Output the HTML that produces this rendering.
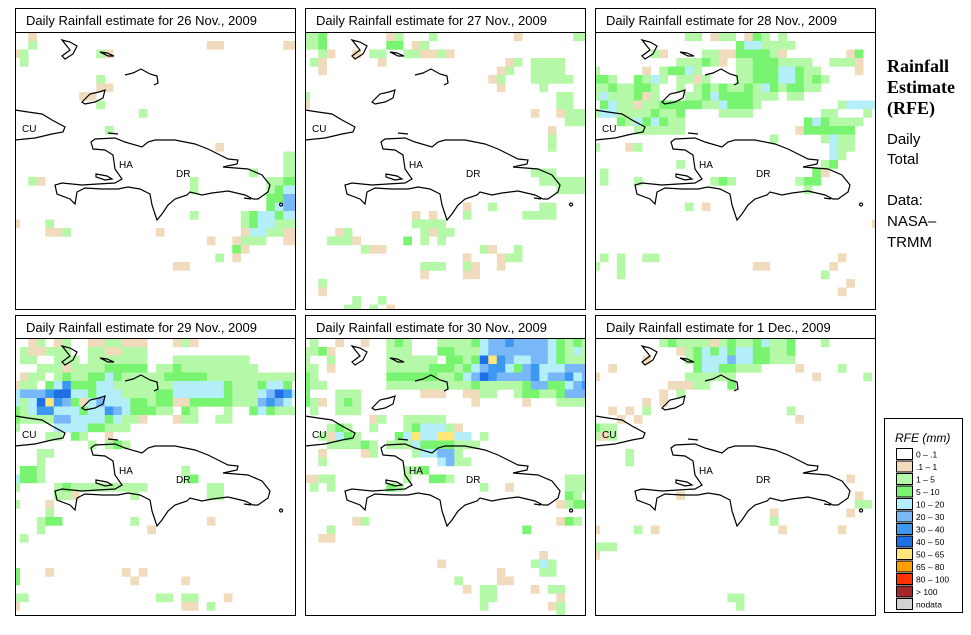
<!DOCTYPE html>
<html><head><meta charset="utf-8">
<style>
body{margin:0;background:#fff;width:971px;height:635px;overflow:hidden;font-family:"Liberation Sans",sans-serif}
#wrap{position:relative;width:971px;height:635px}
svg{position:absolute;left:0;top:0}
.side{position:absolute;left:887px;color:#000}
</style></head><body><div id="wrap">
<svg id="chart" width="971" height="635"></svg>
<div class="side" style="top:56px;font-family:'Liberation Serif',serif;font-weight:bold;font-size:18px;line-height:21px">Rainfall<br>Estimate<br>(RFE)</div>
<div class="side" style="top:130px;font-size:15px;line-height:20px">Daily<br>Total</div>
<div class="side" style="top:190px;font-size:15px;line-height:21px">Data:<br>NASA–<br>TRMM</div>
</div>
<script>
const panelTitles=["Daily Rainfall estimate for  26 Nov., 2009","Daily Rainfall estimate for  27 Nov., 2009","Daily Rainfall estimate for  28 Nov., 2009","Daily Rainfall estimate for  29 Nov., 2009","Daily Rainfall estimate for  30 Nov., 2009","Daily Rainfall estimate for  1 Dec., 2009"];
const legendLabels=["0 – .1",".1 – 1","1 – 5","5 – 10","10 – 20","20 – 30","30 – 40","40 – 50","50 – 65","65 – 80","80 – 100","> 100","nodata"];
const legendCodes=[".","t","g","G","c","b","B","D","y","o","r","R","n"];
const legendColors=["#ffffff","#f0dcbc","#b4f8a8","#78f470","#b4eef8","#78b8f8","#3c98f0","#1e6ee6","#ffe678","#ffa000","#ff3200","#a52828","#d2d2d2"];
// cells: "row startCol codes" (grid indices, 0.25° grid)
const day1=["0 2 t","1 2 g","1 23 tt","1 32 tt","2 0 tg","2 10 gt","3 1 g","5 10 g","6 10 tt","7 8 tt","8 10 g","9 15 g","11 11 g","13 24 t","14 32 gg","15 32 gg","16 28 g","16 32 gg","17 2 gt","17 21 g","17 30 ggGG","18 21 g","18 30 gGcc","19 30 GGbb","20 30 Gcbb","21 21 g","21 27 gGccGcc","22 0 t","22 4 g","22 27 gGccggg","23 4 ttg","23 17 t","23 27 tccggtt","24 23 t","24 26 tggg","24 32 tt","25 26 Gt","26 24 g","26 26 t","27 19 tt"];
const day2=["0 0 ggG","0 10 tg","0 15 g","0 25 t","0 32 gg","1 0 ggG","1 10 GG","1 13 tg","2 2 gt","2 6 t","2 8 gg","2 12 ggttgt","3 1 gt","3 9 t","3 24 tg","3 27 gggg","4 2 t","4 23 tg","4 27 gggg","5 22 tg","5 27 ggggg","6 23 t","6 28 g","7 0 g","7 30 gg","8 0 t","8 30 gg","9 27 t","9 30 tggg","10 31 ggg","11 29 t","12 29 g","13 29 g","16 27 ggg","17 28 gg","17 30 gggg","18 30 gggg","20 19 t","20 22 g","20 28 gg","21 13 t","21 15 t","21 19 g","21 26 gggg","22 13 gggg","23 4 tg","23 14 gtgg","24 3 gggt","24 12 G","24 14 g","24 16 g","25 7 gtt","25 21 gt","25 25 g","26 19 t","26 23 tgg","27 14 ggg","27 19 gt","27 23 t","28 14 t","28 19 tt","29 2 g","30 2 t","31 6 g","31 9 g","32 5 gg","32 8 g","32 10 t"];
const day3=["0 11 gg","0 14 tgg","0 18 tGg","0 22 g","1 17 Gccgggg","2 7 gt","2 13 ggttGGGGgt","2 30 tG","3 10 gggGgt","3 17 ggGGGgggg","3 28 gggt","4 0 g","4 6 t","4 8 gGGcg","4 17 ggGGGccGgg","4 31 t","5 0 GGg","5 5 Ggcg","5 10 ggtg","5 17 ggGGGccGgGg","6 0 ggGggGGg","6 10 g.gGgGggGgcGgGGgg","7 0 gcgggGtg","7 11 ggGcGGGGggg","7 23 gg","8 1 GcggtggGGGGGggcGGGg","8 29 gcccc","9 0 gccggggGggG","9 15 gggg","9 27 gg","9 32 g","10 3 GgcGcGgg","10 25 GcGgggg","11 5 gggggg","11 24 tGGGGGG","12 21 g","12 27 gcgg","13 0 g","13 4 tg","13 28 cgg","14 28 cg","15 10 g","15 27 gG","16 1 g","16 26 Gt","17 1 g","17 5 g","17 14 gGg","17 24 gGG","18 25 g","20 11 g","20 13 t","22 33 t","26 1 g","26 3 g","26 6 gg","26 29 t","27 0 g","27 3 g","27 19 tt","27 28 t","28 3 g","28 27 g","29 30 t","30 29 t"];
const day4=["0 2 tg","0 5 tg","0 9 ttggttt","0 19 tgt","1 1 gttggg","1 9 ggttggg","2 1 gg","2 5 ggg","2 9 ggggggg","2 19 ggggggggg","3 3 gggtggggGGGGG","3 17 ggGggggggggg","4 1 tgg.gGggGGcGggggg","4 18 GGGGGggggggggggg","5 0 tgg.GcBGGGccgggggggccccccGgggGccG","6 0 cbbbBDDccGcccggggGGccccccGgggcbDBc","7 0 cgcDyBbGtcbcccGGgGGttGGGGGgggbBbc","8 0 GgcBBcccGccBbcGGGgg.Gg...g..GcGggg","9 0 GggggbbccccGcggt","9 19 tgg","9 24 gg","10 0 g","10 5 ccccGGggg","11 4 gg.Gg..t","12 9 g.gGg","13 3 gg","14 3 g","15 1 GGg","15 20 g","16 0 cGGg","16 20 gG","17 0 g","17 5 gGggggggggg","17 23 gg","18 5 ggt","18 14 g","18 23 gg","19 0 g","19 4 t","20 4 g","21 3 gGG","21 14 g","21 23 t","22 3 g","22 16 t","23 1 g","27 0 G","27 4 t","27 13 t","27 15 t","28 0 G","28 14 t","28 20 t","30 0 gg","30 17 gg","30 20 gg","30 25 t","31 0 t","31 20 tt","31 23 g"];
const day5=["0 1 g","0 4 t","0 7 t","0 10 gGg","0 16 ggggGcbbBbbbbcGgGg","1 0 ggGt","1 10 ggg","1 16 GGgggcbbbbbbbcGgcg","2 0 g","2 3 g","2 10 gggggg","2 17 GGgGDyBbccbbcGggg","3 0 gg","3 3 t","3 10 gggggGGGgGcbBBcGbBcccbbb","4 0 Gg","4 10 GGGGGGggGcbDBbbbbBcbbBcb","5 0 Ggg","5 10 ggggggggggGgggggGbbGGcbB","6 0 G","6 4 ggg","6 14 ttt","6 19 ttgg","6 25 gGGggGbbb","7 0 Ggt","7 4 gGg","7 20 t","7 26 t","7 30 gggg","8 1 g","8 4 ggg","9 8 tg","9 12 ggggg","10 3 gGg","10 8 g","10 12 gGcccgt","11 2 gtcGg","11 11 Gcyccyycc","11 21 g","12 3 ggggGg","12 10 gggcGGGGggg","13 2 t","13 7 tg","13 13 gccbbg","14 2 g","14 16 cbgg","15 12 ggG","16 0 ttgg","16 12 g..GGg","16 31 ggg","17 1 g.g","17 10 Gg","17 21 g","17 24 t","17 31 ggg","18 31 Gg","19 30 tgGG","21 6 tg","21 30 tGg","22 3 g","22 26 G","23 2 tt","25 28 t","26 16 t","26 27 gcg","27 23 t","27 28 gg","28 18 g","28 23 tt","29 19 t","29 21 gg","29 27 t","29 29 gg","30 21 gg","30 30 t","31 21 g","31 29 tg","32 30 g"];
const day6=["0 8 gGggggtgGggGcggG","0 27 g","1 10 tgGcGcGccGGggG","2 6 t","2 11 gGcccbccGGggg","3 2 t","3 12 GccGGggg","3 24 t","3 29 g","4 0 t","4 11 gggggg","4 26 t","4 32 g","5 9 tttgg","5 16 G","6 8 t","6 10 g","7 6 t","7 8 t","8 2 t","8 4 t","8 6 g","8 23 g","9 3 t","9 5 t","9 24 t","10 0 Ggg","11 0 gtg","13 4 g","14 4 g","16 30 t","18 10 t","18 31 t","19 31 gg","20 21 t","20 30 t","21 21 g","22 0 t","22 5 g","22 7 t","22 22 t","22 29 t","24 0 ggg","25 0 t","30 16 gg","31 17 g"];
const days=[day1,day2,day3,day4,day5,day6];

const NS="http://www.w3.org/2000/svg";
const svg=document.getElementById('chart');
const PW=280,PH=277,CELL=8.5;
const panelX=[15,305,595],mapY=[32,338],titleY=[8,315];
function colX(c){return c*CELL-3.7;}
function rowY(r){return r*CELL+0.5;}
function mk(tag,attrs,parent){const e=document.createElementNS(NS,tag);for(const k in attrs)e.setAttribute(k,attrs[k]);(parent||svg).appendChild(e);return e;}
const coast="M76,110 L80,107 L100,106 L110,110 L127,115 L133,110 L140,108 L160,108 L180,112 L193,117 L203,122 L213,127 L223,128 L222,132 L208,135 L233,137 L247,143 L255,153 L253,160 L243,167 L238,167 L230,163 L213,159 L197,161 L187,163 L175,160 L172,163 L160,167 L153,173 L147,182 L142,188 L140,182 L137,173 L135,162 L125,157 L113,155 L103,157 L87,157 L70,156 L62,160 L60,172 L55,167 L42,162 L40,153 L47,151 L67,153 L83,152 L100,151 L107,147 L100,137 L98,123 L90,118 L78,117 Z M0,78 L13,80 L27,82 L37,88 L50,95 L48,100 L37,102 L20,106 L0,108 M67,70 L75,62 L84,60 L90,58 L88,66 L80,70 L70,72 Z M47,8 L55,10 L62,14 L58,22 L50,27 L47,24 L55,18 Z M85,20 L92,21 L99,24 L93,24 Z M110,43 L118,41 L126,37 L135,42 L142,44 L143,51 L139,53 M93,101 L103,102 M229,166 L236,167 M266,171 a1.5,1.5 0 1,0 0.1,0 M81,142 L92,144 L97,147 L90,148 L81,145 Z";
for(let p=0;p<6;p++){
  const px=panelX[p%3],py=mapY[Math.floor(p/3)],ty=titleY[Math.floor(p/3)];
  const tb=mk('rect',{x:px+0.5,y:ty+0.5,width:PW,height:mapY[Math.floor(p/3)]-ty,fill:'#fff',stroke:'#000','stroke-width':1});
  
  
  const tt=mk('text',{x:px+11,y:ty+17,'font-size':13,'font-family':'Liberation Sans, sans-serif'});
  tt.textContent=panelTitles[p];
  
  
  const cp=mk('clipPath',{id:'cp'+p});mk('rect',{x:0,y:0,width:PW,height:PH},cp);
  const g=mk('g',{transform:`translate(${px},${py})`,'clip-path':`url(#cp${p})`});
  
  
  days[p].forEach(s=>{const [r,c,codes]=s.split(' ');for(let i=0;i<codes.length;i++){const k=legendCodes.indexOf(codes[i]);if(k<=0)continue;
    const cell=mk('rect',{x:colX(+c+i),y:rowY(+r),width:CELL+0.2,height:CELL+0.2,fill:legendColors[k]},g);
    
    }});
  const cl=mk('path',{d:coast,fill:'none',stroke:'#000','stroke-width':1.2},g);
  
  
  [["CU",7,100],["HA",104,136],["DR",161,145]].forEach(([t,x,y])=>{const l=mk('text',{x:x,y:y,'font-size':10,'font-family':'Liberation Sans, sans-serif'},g);l.textContent=t;
    
    });
  const fr=mk('rect',{x:px+0.5,y:py+0.5,width:PW,height:PH,fill:'none',stroke:'#000','stroke-width':1});
  
  
}
// legend
const lg=mk('g',{});


mk('rect',{x:884.5,y:418.5,width:78,height:194,fill:'#fff',stroke:'#000'},lg);
const lt=mk('text',{x:895,y:442,'font-size':12,'font-style':'italic','font-family':'Liberation Sans, sans-serif'},lg);lt.textContent="RFE (mm)";


legendLabels.forEach((lab,i)=>{
  const y=448+i*12.5;
  const sw=mk('rect',{x:896.5,y:y+0.5,width:16,height:11,fill:legendColors[i],stroke:'#000','stroke-width':1},lg);
  
  
  const tx=mk('text',{x:916,y:y+9.5,'font-size':8.5,'font-family':'Liberation Sans, sans-serif'},lg);tx.textContent=lab;
  
  
});
</script></body></html>
